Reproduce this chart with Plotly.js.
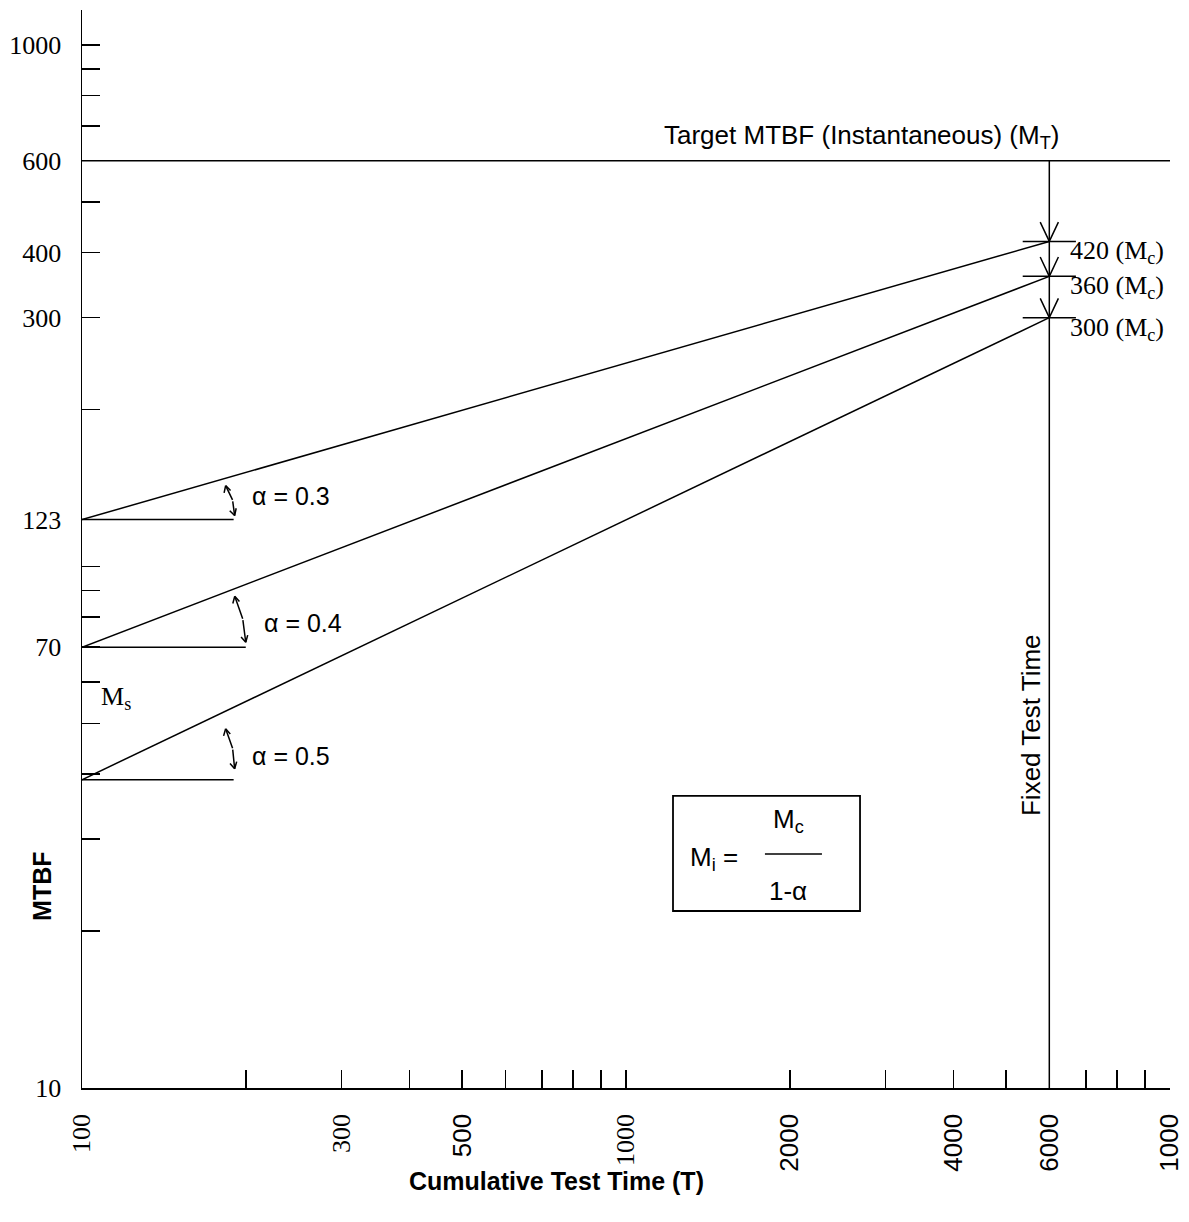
<!DOCTYPE html>
<html><head><meta charset="utf-8">
<script src="https://cdn.plot.ly/plotly-3.0.1.min.js"></script>
<style>body{margin:0;background:#fff}</style>
</head><body>
<div id="chart" style="width:1189px;height:1222px"></div>
<script>
// ---- data ----
const alphas = [0.3, 0.4, 0.5];
const startMTBF = [123, 70, 39];        // M_s at T = 100
const cumMTBF = [420, 360, 300];        // M_c at fixed test time
const alphaRefEnd = [190, 200, 190];    // end of the horizontal reference line for the alpha angle
const startTime = 100;
const fixedTime = 6000;
const endTime = 10000;
const targetMTBF = 600;
const minMTBF = 10;

const xTickVals = [100, 300, 500, 1000, 2000, 4000, 6000, 10000];
const xTickText = ['100', '300', '500', '1000', '2000', '4000', '6000', '1000'];
const xTickSerif = [true, true, false, true, false, false, false, false];
const xMinorVals = [200, 400, 600, 700, 800, 900, 3000, 5000, 7000, 8000, 9000];
const yTickVals = [10, 70, 123, 300, 400, 600, 1000];
const yTickText = ['10', '70', '123', '300', '400', '600', '1000'];
const yMinorVals = [20, 30, 40, 50, 60, 80, 90, 100, 200, 500, 700, 800, 900];

// ---- styles ----
const SERIF = 'Liberation Serif, Times New Roman, serif';
const SANS = 'Liberation Sans, Arial, sans-serif';
const BLK = '#000';
const lineStyle = {color: BLK, width: 1.5};
const L = Math.log10;

const traces = [];
alphas.forEach((a, i) => {
  traces.push({x: [startTime, fixedTime], y: [startMTBF[i], cumMTBF[i]], mode: 'lines',
    line: lineStyle, hoverinfo: 'skip', showlegend: false});
  traces.push({x: [startTime, alphaRefEnd[i]], y: [startMTBF[i], startMTBF[i]], mode: 'lines',
    line: lineStyle, hoverinfo: 'skip', showlegend: false});
});
traces.push({x: [startTime, endTime], y: [targetMTBF, targetMTBF], mode: 'lines',
  line: lineStyle, hoverinfo: 'skip', showlegend: false, cliponaxis: false});
traces.push({x: [fixedTime, fixedTime], y: [targetMTBF, minMTBF], mode: 'lines',
  line: lineStyle, hoverinfo: 'skip', showlegend: false, cliponaxis: false});
traces.push({x: cumMTBF.map(() => fixedTime), y: cumMTBF, mode: 'markers',
  marker: {symbol: 'line-ew', size: 38, color: BLK, line: {width: 1.5, color: BLK}},
  hoverinfo: 'skip', showlegend: false, cliponaxis: false});

const annotations = [];
// a thin stroke from a data point (shifted by sx, sy screen pixels, y down) running (dx, dy) pixels
function stroke(xv, yv, sx, sy, dx, dy) {
  annotations.push({x: L(xv), y: L(yv), xref: 'x', yref: 'y', xshift: sx, yshift: -sy,
    ax: dx, ay: dy, text: '', showarrow: true, arrowhead: 0, arrowwidth: 1.5,
    arrowcolor: BLK, standoff: 0, startstandoff: 0});
}
function rot(u, t) {
  const c = Math.cos(t), s = Math.sin(t);
  return [u[0] * c - u[1] * s, u[0] * s + u[1] * c];
}
// open "V" head with its tip at the shifted point, pointing along direction u (unit, screen coords)
function vHead(xv, yv, sx, sy, u, len, ang) {
  const back = [-u[0], -u[1]];
  [ang, -ang].forEach(t => {
    const w = rot(back, t);
    stroke(xv, yv, sx, sy, w[0] * len, w[1] * len);
  });
}

// down arrow heads along the fixed-test-time line, and M_c labels
cumMTBF.forEach((m, i) => {
  vHead(fixedTime, m, 0, 0, [0, 1], 23, 0.44);
  annotations.push({x: L(fixedTime), y: L(m), xref: 'x', yref: 'y', showarrow: false,
    text: m + ' (M<sub>c</sub>)', xanchor: 'left', yanchor: 'top', xshift: 19, yshift: 7,
    font: {family: SERIF, size: 26, color: BLK}});
});

// alpha angle double arrows and labels
const tipShift = [[1, -4], [0, -5], [1, -11]];
const span = [[-9, -30], [-11, -46], [-9, -40]];
alphas.forEach((a, i) => {
  const b = tipShift[i], d = span[i];
  const len = Math.hypot(d[0], d[1]);
  const u = [d[0] / len, d[1] / len];           // from bottom tip toward top tip
  const n = [-u[1], u[0]];                       // perpendicular (bulge side)
  const bulge = 2.5;
  const mid = [d[0] / 2 + n[0] * bulge, d[1] / 2 + n[1] * bulge];
  stroke(alphaRefEnd[i], startMTBF[i], b[0], b[1], mid[0], mid[1]);
  stroke(alphaRefEnd[i], startMTBF[i], b[0] + mid[0], b[1] + mid[1], d[0] - mid[0], d[1] - mid[1]);
  // head at bottom (pointing down toward the reference line)
  vHead(alphaRefEnd[i], startMTBF[i], b[0], b[1], [-u[0], -u[1]], 9, 0.5);
  // head at top (pointing up toward the growth line)
  vHead(alphaRefEnd[i], startMTBF[i], b[0] + d[0], b[1] + d[1], u, 9, 0.5);
  annotations.push({x: L(alphaRefEnd[i]), y: L(startMTBF[i]), xref: 'x', yref: 'y', showarrow: false,
    text: '\u03b1 = ' + a.toFixed(1), xanchor: 'left', yanchor: 'middle', xshift: 16, yshift: 24,
    font: {family: SANS, size: 25, color: BLK}});
});
// target label
annotations.push({x: L(fixedTime), y: L(targetMTBF), xref: 'x', yref: 'y', showarrow: false,
  text: 'Target MTBF (Instantaneous) (M<sub>T</sub>)', xanchor: 'right', yanchor: 'bottom',
  xshift: 12, yshift: 6, font: {family: SANS, size: 26, color: BLK}});
// fixed test time label
annotations.push({x: L(fixedTime), y: 0.337, xref: 'x', yref: 'paper', showarrow: false,
  text: 'Fixed Test Time', textangle: -90, xanchor: 'center', yanchor: 'middle', xshift: -19,
  font: {family: SANS, size: 26, color: BLK}});
// M_s label
annotations.push({x: 0.031, y: 0.362, xref: 'paper', yref: 'paper', showarrow: false,
  text: 'M<sub>s</sub>', xanchor: 'center', yanchor: 'middle',
  font: {family: SERIF, size: 26, color: BLK}});
// formula
annotations.push({x: 0.5805, y: 0.213, xref: 'paper', yref: 'paper', showarrow: false,
  text: 'M<sub>i</sub> =', xanchor: 'center', yanchor: 'middle',
  font: {family: SANS, size: 26, color: BLK}});
annotations.push({x: 0.6489, y: 0.2477, xref: 'paper', yref: 'paper', showarrow: false,
  text: 'M<sub>c</sub>', xanchor: 'center', yanchor: 'middle',
  font: {family: SANS, size: 26, color: BLK}});
annotations.push({x: 0.6489, y: 0.1832, xref: 'paper', yref: 'paper', showarrow: false,
  text: '1-\u03b1', xanchor: 'center', yanchor: 'middle',
  font: {family: SANS, size: 26, color: BLK}});
// axis titles
annotations.push({x: 0.4357, y: -0.0863, xref: 'paper', yref: 'paper', showarrow: false,
  text: '<b>Cumulative Test Time (T)</b>', xanchor: 'center', yanchor: 'middle',
  font: {family: SANS, size: 25, color: BLK}});
annotations.push({x: -0.0368, y: 0.1874, xref: 'paper', yref: 'paper', showarrow: false,
  text: '<b>MTBF</b>', textangle: -90, xanchor: 'center', yanchor: 'middle',
  font: {family: SANS, size: 25, color: BLK}});

const shapes = [
  {type: 'rect', xref: 'paper', yref: 'paper', x0: 0.5432, x1: 0.7151, y0: 0.1642, y1: 0.2709,
   line: {color: BLK, width: 1.8}},
  {type: 'line', xref: 'paper', yref: 'paper', x0: 0.6277, x1: 0.6801, y0: 0.2171, y1: 0.2171,
   line: {color: BLK, width: 1.5}}
];

const xText = xTickText.map((t, i) => xTickSerif[i] ? t :
  '<span style="font-family:Liberation Sans">' + t + '</span>');

const layout = {
  width: 1189, height: 1222,
  margin: {l: 82, r: 19, t: 10, b: 134, pad: 0},
  paper_bgcolor: '#fff', plot_bgcolor: '#fff',
  showlegend: false,
  xaxis: {
    type: 'log', range: [L(startTime), L(endTime)],
    showgrid: false, zeroline: false, showline: true, linecolor: BLK, linewidth: 1.5,
    tickmode: 'array', tickvals: xTickVals, ticktext: xText, tickangle: -90,
    ticks: 'inside', ticklen: 18, tickwidth: 1.6, tickcolor: BLK, ticklabelstandoff: 14,
    tickfont: {family: SERIF, size: 26, color: BLK},
    minor: {tickmode: 'array', tickvals: xMinorVals, ticks: 'inside', ticklen: 18,
      tickwidth: 1.6, tickcolor: BLK, showgrid: false},
    fixedrange: true
  },
  yaxis: {
    type: 'log', range: [L(minMTBF), 3.067],
    showgrid: false, zeroline: false, showline: true, linecolor: BLK, linewidth: 1.5,
    tickmode: 'array', tickvals: yTickVals, ticktext: yTickText,
    ticks: 'inside', ticklen: 18, tickwidth: 1.6, tickcolor: BLK, ticklabelstandoff: 14,
    tickfont: {family: SERIF, size: 26, color: BLK},
    minor: {tickmode: 'array', tickvals: yMinorVals, ticks: 'inside', ticklen: 18,
      tickwidth: 1.6, tickcolor: BLK, showgrid: false},
    fixedrange: true
  },
  annotations: annotations,
  shapes: shapes
};

Plotly.newPlot('chart', traces, layout, {displayModeBar: false, staticPlot: true});
</script>
</body></html>
